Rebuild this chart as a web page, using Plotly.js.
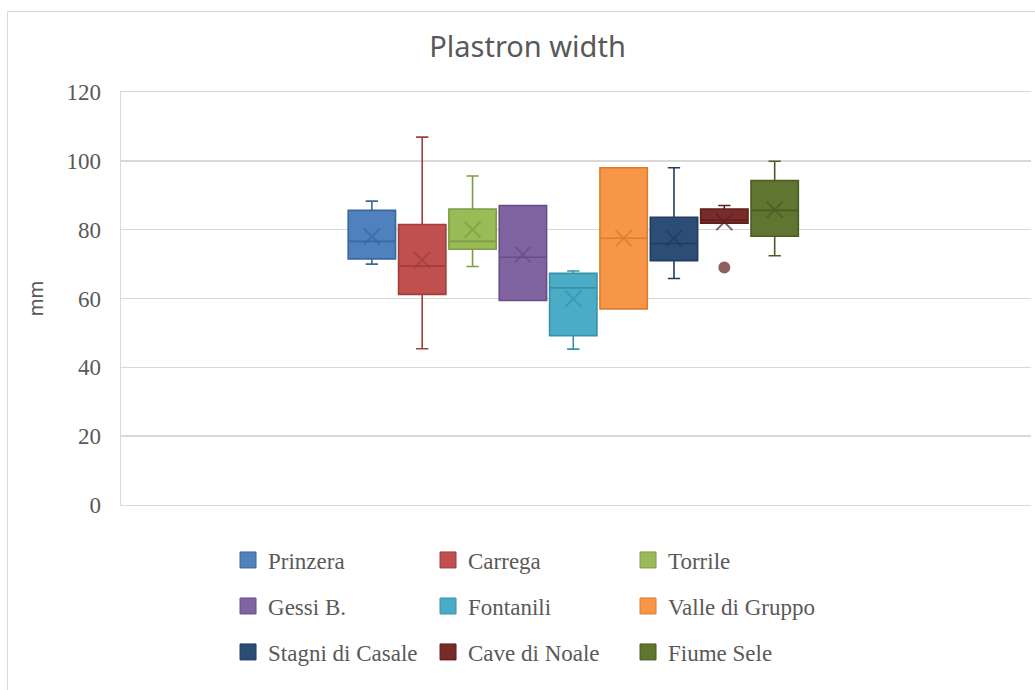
<!DOCTYPE html>
<html>
<head>
<meta charset="utf-8">
<script src="https://cdn.plot.ly/plotly-3.0.1.min.js"></script>
<style>
  html, body { margin: 0; padding: 0; background: #ffffff; }
  #chart { width: 1035px; height: 690px; }
</style>
</head>
<body>
<div id="chart"></div>
<script>
// ---- data ----
var category = ['Plastron width'];
var names = ['Prinzera', 'Carrega', 'Torrile', 'Gessi B.', 'Fontanili', 'Valle di Gruppo', 'Stagni di Casale', 'Cave di Noale', 'Fiume Sele'];
var q1Values     = [71.5, 61.2, 74.3, 59.4, 49.2, 57.0, 71.0, 81.9, 78.1];
var medianValues = [76.6, 69.4, 76.6, 72.0, 63.1, 77.5, 76.0, 82.8, 85.6];
var q3Values     = [85.6, 81.5, 86.0, 87.0, 67.3, 98.0, 83.6, 86.0, 94.3];
var lowerValues  = [70.0, 45.4, 69.3, 59.4, 45.3, 57.0, 65.8, 81.9, 72.4];
var upperValues  = [88.3, 106.9, 95.6, 87.0, 68.0, 98.0, 98.0, 87.0, 99.9];
var meanValues   = [78.0, 71.2, 80.0, 72.8, 59.9, 77.5, 77.5, 82.2, 85.8];
var outlierValues = [[], [], [], [], [], [], [], [69.0], []];
var yTicks = [0, 20, 40, 60, 80, 100, 120];

// ---- styles ----
var fillColors = ['#4F81BD', '#C0504D', '#9BBB59', '#8064A2', '#4BACC6', '#F79646', '#2C4D75', '#772C2A', '#5F7530'];
var lineColors = ['#3A679E', '#A13E3B', '#7E9C42', '#664D86', '#3692AB', '#D97D31', '#213C5E', '#5E1F1D', '#4A5C24'];
var legendIds = ['legend', 'legend', 'legend', 'legend2', 'legend2', 'legend2', 'legend3', 'legend3', 'legend3'];

var traces = [];
names.forEach(function (n, i) {
  traces.push({
    type: 'box',
    name: n,
    x: category,
    q1: [q1Values[i]],
    median: [medianValues[i]],
    q3: [q3Values[i]],
    lowerfence: [lowerValues[i]],
    upperfence: [upperValues[i]],
    boxpoints: false,
    fillcolor: fillColors[i],
    line: { color: lineColors[i], width: 1.6 },
    whiskerwidth: 0.26,
    showlegend: false,
    hoverinfo: 'skip'
  });
});
names.forEach(function (n, i) {
  var ys = [meanValues[i]].concat(outlierValues[i]);
  var xs = ys.map(function () { return category[0]; });
  var symbols = ys.map(function (v, k) { return k === 0 ? 'x-thin' : 'circle'; });
  var sizes = ys.map(function (v, k) { return k === 0 ? 16 : 10; });
  traces.push({
    type: 'scatter',
    mode: 'markers',
    name: n + ' mean',
    x: xs,
    y: ys,
    marker: { symbol: symbols, size: sizes, color: lineColors[i], line: { color: lineColors[i], width: 2 } },
    showlegend: false,
    hoverinfo: 'skip'
  });
});
// legend entries (on a hidden overlaying axis so they do not take group slots)
names.forEach(function (n, i) {
  traces.push({
    type: 'scatter',
    mode: 'markers',
    name: n,
    x: [null],
    y: [null],
    xaxis: 'x2',
    marker: { symbol: 'square', size: 16, color: fillColors[i], line: { color: lineColors[i], width: 1 } },
    legend: legendIds[i],
    showlegend: true,
    hoverinfo: 'skip'
  });
});

var legendFont = { family: 'Liberation Serif, Times New Roman, serif', size: 23, color: '#595959' };
function makeLegend(yPos) {
  return {
    orientation: 'h',
    x: 0.1176, xanchor: 'left',
    y: yPos, yanchor: 'middle',
    font: legendFont,
    entrywidth: 155,
    entrywidthmode: 'pixels',
    bgcolor: 'rgba(0,0,0,0)',
    itemclick: false, itemdoubleclick: false
  };
}

var layout = {
  width: 1035,
  height: 690,
  margin: { l: 121, r: 4, t: 92, b: 185 },
  paper_bgcolor: '#ffffff',
  plot_bgcolor: '#ffffff',
  title: {
    text: 'Plastron width',
    font: { family: 'Noto Sans, Open Sans, sans-serif', size: 29, color: '#595959' },
    x: 0.5097, xref: 'container', xanchor: 'center',
    y: 0.932, yref: 'container', yanchor: 'middle'
  },
  boxmode: 'group',
  boxgap: 0.502,
  boxgroupgap: 0.06,
  scattermode: 'group',
  scattergap: 0.502,
  xaxis: {
    type: 'category',
    range: [-0.497, 0.503],
    showticklabels: false,
    showgrid: false,
    zeroline: false,
    showline: true,
    mirror: true,
    linecolor: '#D9D9D9',
    linewidth: 1.4,
    fixedrange: true
  },
  xaxis2: {
    overlaying: 'x',
    visible: false,
    range: [0, 1],
    fixedrange: true
  },
  yaxis: {
    range: [0, 120],
    tickvals: yTicks,
    ticktext: yTicks.map(String),
    showgrid: true,
    gridcolor: '#D9D9D9',
    gridwidth: 1.4,
    zeroline: false,
    showline: true,
    linecolor: '#D9D9D9',
    linewidth: 1.4,
    ticks: '',
    ticklabelstandoff: 14,
    tickfont: { family: 'Liberation Serif, Times New Roman, serif', size: 23, color: '#595959' },
    title: {
      text: 'mm',
      font: { family: 'Noto Sans, Open Sans, sans-serif', size: 19, color: '#595959' },
      standoff: 18
    },
    fixedrange: true
  },
  legend: makeLegend(-0.1332),
  legend2: makeLegend(-0.2446),
  legend3: makeLegend(-0.3559),
  shapes: [{
    type: 'rect', xref: 'paper', yref: 'paper',
    x0: -0.1247, x1: 1.2, y0: -0.7, y1: 1.1949,
    line: { color: '#D9D9D9', width: 1 },
    fillcolor: 'rgba(0,0,0,0)',
    layer: 'below'
  }],
  showlegend: true,
  hovermode: false
};

Plotly.newPlot('chart', traces, layout, { displayModeBar: false, staticPlot: true });
</script>
</body>
</html>
